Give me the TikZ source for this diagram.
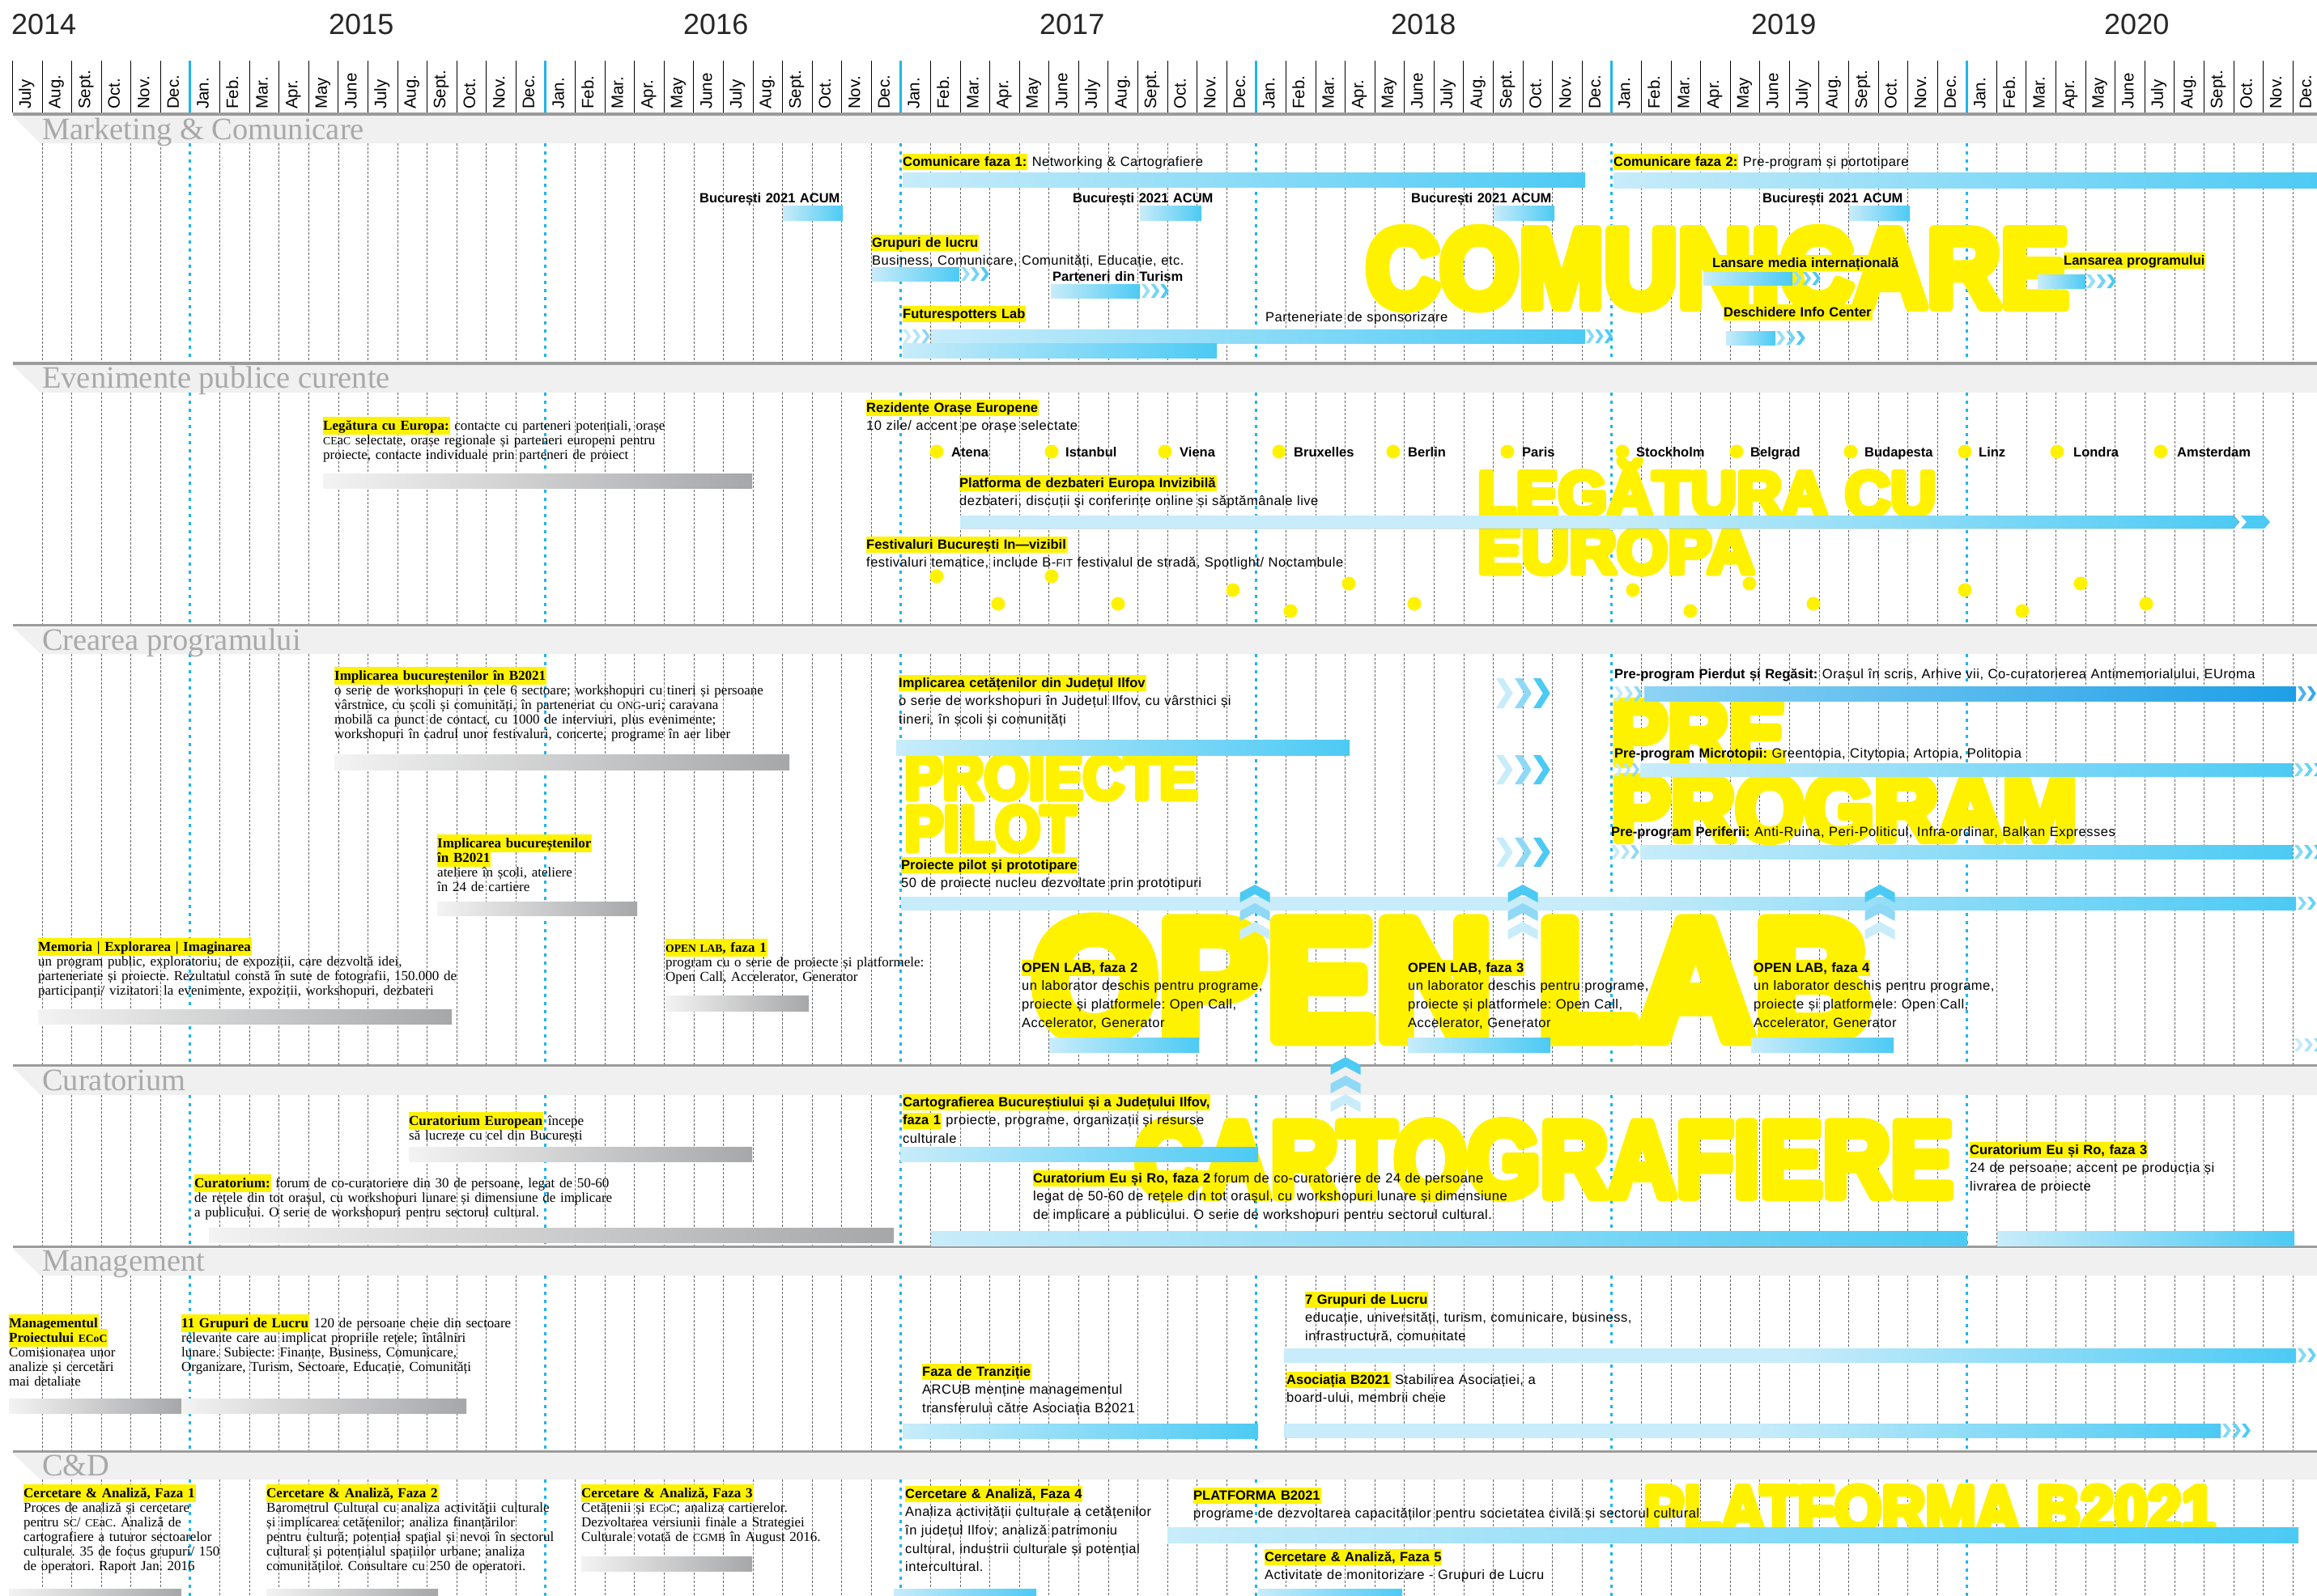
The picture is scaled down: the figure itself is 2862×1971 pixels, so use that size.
\documentclass[tikz,border=0pt]{standalone}
\usepackage{fontspec}
\usepackage{graphicx}
\setmainfont{Liberation Serif}
\newfontfamily\sansf{Liberation Sans}[LetterSpace=3,BoldFeatures={LetterSpace=0}]
\newfontfamily\plainsans{Liberation Sans}
\newfontfamily\bigf{Liberation Sans}
\definecolor{yel}{HTML}{FFF200}
\definecolor{bl1}{HTML}{C8ECFA}
\definecolor{blm}{HTML}{8FD8F6}
\definecolor{bl2}{HTML}{4CCAF4}
\definecolor{bld}{HTML}{1E9FE6}
\definecolor{blmd}{HTML}{8DD3F5}
\definecolor{gr1}{HTML}{F3F3F3}
\definecolor{gr2}{HTML}{A6A7A9}
\definecolor{sepg}{HTML}{9B9B9B}
\definecolor{bandg}{HTML}{F0F0F0}
\definecolor{labg}{HTML}{A9A9A9}
\definecolor{yrblue}{HTML}{1FB5EA}
\pgfdeclarehorizontalshading{bluelate}{100bp}{color(0bp)=(bl1); color(25bp)=(bl1); color(50bp)=(bl1); color(75bp)=(bl2); color(100bp)=(bl2)}
\newcommand\serf{\rmfamily\fontsize{17}{18}\selectfont\frenchspacing\lineskiplimit=-100pt\lineskip=0pt}
\newcommand\sanf{\sansf\fontsize{16.5}{22.7}\selectfont\frenchspacing\lineskiplimit=-100pt\lineskip=0pt}
\newcommand\hls[1]{{\setlength{\fboxsep}{0pt}\colorbox{yel}{\rule[-5pt]{0pt}{20pt}#1\kern1pt}}}
\newcommand\hlr[1]{{\setlength{\fboxsep}{0pt}\colorbox{yel}{\rule[-6pt]{0pt}{22pt}#1\kern1pt}}}
\newcommand\smcp[1]{\scalebox{0.8}{#1}}
% heavy word: stroked and filled text (text render mode 2), resized to width x height
\newcommand\bigw[3]{\resizebox{#1}{#2}{\special{pdf:literal direct 2 Tr 0.9 w 1 0.949 0 RG 1 j}#3\special{pdf:literal direct 0 Tr}}}
% three right-pointing chevrons: x, y1, y2, group width, colours
\newcommand\chevs[7]{%
  \pgfmathsetmacro\chs{#4/3}\pgfmathsetmacro\cht{#4*0.13}\pgfmathsetmacro\chp{#4*0.17}\pgfmathsetmacro\chm{(#2+#3)/2}%
  \foreach \ci/\chc in {0/#5,1/#6,2/#7}{%
    \fill[\chc] ({#1+\ci*\chs},#2) -- ({#1+\ci*\chs+\cht},#2) -- ({#1+\ci*\chs+\cht+\chp},\chm) -- ({#1+\ci*\chs+\cht},#3) -- ({#1+\ci*\chs},#3) -- ({#1+\ci*\chs+\chp},\chm) -- cycle;}}
% three up-pointing chevrons: centre x, top y
\newcommand\upstack[2]{%
  \foreach \cj/\chc in {0/bl2,1/blm,2/bl1}{%
    \pgfmathsetmacro\chy{#2+\cj*23}%
    \fill[\chc] (#1,\chy) -- ({#1+18.5},{\chy+10}) -- ({#1+18.5},{\chy+22}) -- (#1,{\chy+12}) -- ({#1-18.5},{\chy+22}) -- ({#1-18.5},{\chy+10}) -- cycle;}}
\tikzset{
  hdr/.style={line width=1pt, black},
  hdry/.style={line width=3pt, yrblue},
  gridd/.style={line width=0.7pt, black!60, dash pattern=on 3pt off 2pt},
  gridy/.style={line width=3pt, yrblue, dash pattern=on 4pt off 6pt},
  sepline/.style={line width=3.6pt, sepg},
  seclab/.style={anchor=base west, inner sep=0pt, text=labg, font=\rmfamily\fontsize{38.5}{40}\selectfont},
  yr/.style={anchor=base west, inner sep=0pt, text=black!85, font=\plainsans\fontsize{36}{40}\selectfont},
  mon/.style={rotate=90, anchor=mid west, inner sep=0pt, font=\plainsans\fontsize{20.5}{22}\selectfont},
  tser/.style={anchor=base west, inner sep=0pt, text width=1000pt, align=left, font=\serf},
  tsan/.style={anchor=base west, inner sep=0pt, text width=1000pt, align=left, font=\sanf},
  big/.style={anchor=base west, inner sep=0pt, text=yel, font=\bigf\bfseries},
  bbar/.style={left color=bl1, right color=bl2},
  gbar/.style={left color=gr1, right color=gr2},
  lbar/.style={shading=bluelate, shading angle=0},
  dot/.style={fill=yel},
}
\begin{document}
\begin{tikzpicture}[x=1pt,y=-1pt]
\useasboundingbox (0,0) rectangle (2862,1971);
\clip (0,0) rectangle (2862,1971);
\fill[white] (0,0) rectangle (2862,1971);
% ---------- section bands and separators
\foreach \t/\b in {143/177,451/485,774.5/808,1318.5/1353,1542.5/1576,1795.5/1828}{%
  \fill[bandg] (15.5,\t) -- (2862,\t) -- (2862,\b) -- (50,\b) -- cycle;}
\foreach \y in {141,449,772.5,1316.5,1540.5,1793.5}{\draw[sepline] (15.5,\y) -- (2862,\y);}
% ---------- header lines
\foreach \k in {0,...,77}{%
  \pgfmathtruncatemacro\r{mod(\k,12)}%
  \ifnum\r=6 \draw[hdry] ({15.5+36.58*\k},75) -- ({15.5+36.58*\k},139);%
  \else \draw[hdr] ({15.5+36.58*\k},75) -- ({15.5+36.58*\k},139);\fi}
% ---------- body grid
\foreach \ya/\yb in {177/447,485/771,808/1315,1353/1539,1576/1792,1828/1975}{%
  \foreach \k in {1,...,77}{%
    \pgfmathtruncatemacro\r{mod(\k,12)}%
    \ifnum\r=6 \draw[gridy] ({15.5+36.58*\k},\ya) -- ({15.5+36.58*\k},\yb);%
    \else \draw[gridd] ({15.5+36.58*\k},\ya) -- ({15.5+36.58*\k},\yb);\fi}}
% ---------- years and months
\node[yr] (y14) at (14,42) {2014};
\node[yr] (y15) at (406,42) {2015};
\node[yr] (y16) at (844,42) {2016};
\node[yr] (y17) at (1284,42) {2017};
\node[yr] (y18) at (1718,42) {2018};
\node[yr] (y19) at (2163,42) {2019};
\node[yr] (y20) at (2599,42) {2020};
\foreach \m [count=\i from 0] in {July,Aug.,Sept.,Oct.,Nov.,Dec.}{%
  \node[mon] (m0-\i) at ({35.8+36.58*\i},135) {\m};}
\foreach \yy in {0,...,5}{%
  \foreach \m [count=\i from 0] in {Jan.,Feb.,Mar.,Apr.,May,June,July,Aug.,Sept.,Oct.,Nov.,Dec.}{%
    \node[mon] (m\yy-\i) at ({35.8+36.58*(6+12*\yy+\i)},135) {\m};}}
% ---------- section labels
\node[seclab] (s1) at (52,172) {Marketing \& Comunicare};
\node[seclab] (s2) at (52,479) {Evenimente publice curente};
\node[seclab] (s3) at (52,803) {Crearea programului};
\node[seclab] (s4) at (52,1347) {Curatorium};
\node[seclab] (s5) at (52,1570) {Management};
\node[seclab] (s6) at (52,1823) {C\&D};
% ---------- big yellow words
\node[big] (wcom) at (1687,379) {\bigw{868pt}{96pt}{COMUNICARE}};
\node[big] (wleg) at (1825,637) {\bigw{566pt}{!}{LEGĂTURA CU}};
\node[big] (weur) at (1825,708) {\bigw{342pt}{56pt}{EUROPA}};
\node[big] (wpro) at (1117,987) {\bigw{362pt}{54pt}{PROIECTE}};
\node[big] (wpil) at (1117,1051) {\bigw{212pt}{55pt}{PILOT}};
\node[big] (wpre) at (1990,944) {\bigw{215pt}{77pt}{PRE}};
\node[big] (wprg) at (1990,1038) {\bigw{575pt}{79pt}{PROGRAM}};
\node[big] (wopl) at (1274,1283) {\bigw{1037pt}{146pt}{OPEN LAB}};
\node[big] (wcar) at (1401,1478) {\bigw{1011pt}{92pt}{CARTOGRAFIERE}};
\node[big] (wpla) at (2030,1892) {\bigw{706pt}{56pt}{PLATFORMA B2021}};
% ---------- bars: Marketing
\fill[bbar] (1115,213) rectangle (1958,231);
\fill[bbar] (1993,213) rectangle (2870,232);
\fill[bbar] (967,254) rectangle (1041,272);
\fill[bbar] (1408,254) rectangle (1484,272);
\fill[bbar] (1845,254) rectangle (1920,272);
\fill[bbar] (2284,254) rectangle (2359,272);
\fill[bbar] (1077,330) rectangle (1185,347);
\chevs{1187}{330}{347}{36}{bl2!60!white}{bl2!80!white}{bl2}
\fill[bbar] (1298,351) rectangle (1408,368);
\chevs{1410}{351}{368}{35}{bl2!60!white}{bl2!80!white}{bl2}
\chevs{1115}{407}{424}{35}{bl1}{bl1!60!blm}{blm}
\fill[bbar] (1150,407) rectangle (1958,424);
\chevs{1959}{407}{424}{34}{bl2!70!white}{bl2!85!white}{bl2}
\fill[bbar] (1115,424) rectangle (1503,442);
\fill[bbar] (2104,336) rectangle (2214,352);
\chevs{2215}{336}{352}{35}{bl2!60!white}{bl2!80!white}{bl2}
\fill[bbar] (2517,339) rectangle (2576,356);
\chevs{2577}{339}{356}{38}{bl2!60!white}{bl2!80!white}{bl2}
\fill[bbar] (2132,409) rectangle (2193,426);
\chevs{2194}{409}{426}{37}{bl2!60!white}{bl2!80!white}{bl2}
% ---------- bars: Evenimente
\fill[gbar] (399,585) rectangle (929,603);
\fill[lbar] (1186,637) -- (2759,637) -- (2766,645) -- (2759,653) -- (1186,653) -- cycle;
\fill[bl2] (2768,637) -- (2797,637) -- (2804,645) -- (2797,653) -- (2768,653) -- (2775,645) -- cycle;
\foreach \dx in {1157,1299,1439,1580,1721,1862,2004,2145,2286,2427,2541,2669}{\fill[dot] (\dx,558) circle (8.5);}
\foreach \dx/\dy in {1157/712,1233/746,1299/712,1381/746,1523/729,1594/755,1666/721,1747/746,2017/729,2088/755,2161/721,2240/746,2427/729,2498/755,2570/721,2651/746}{\fill[dot] (\dx,\dy) circle (8.5);}
% ---------- bars: Crearea programului
\fill[gbar] (413,932) rectangle (975,951);
\fill[gbar] (540,1114) rectangle (787,1131);
\fill[gbar] (47,1247) rectangle (558,1265);
\fill[gbar] (822,1230) rectangle (999,1249);
\fill[bbar] (1107,914) rectangle (1667,933);
\fill[lbar] (1113,1108) rectangle (2836,1124);
\chevs{2838}{1108}{1124}{36}{bl2!70!white}{bl2!85!white}{bl2}
\chevs{1994}{848}{866}{36}{bl1}{blm!70!white}{blm}
\fill[left color=blmd, right color=bld] (2031,848) rectangle (2836,866);
\chevs{2838}{848}{866}{36}{bld!80!white}{bld!90!white}{bld}
\chevs{1994}{943}{959}{32}{bl1}{bl1!60!blm}{blm}
\fill[bbar] (2026,943) rectangle (2832,959);
\chevs{2834}{943}{959}{36}{bl2!70!white}{bl2!85!white}{bl2}
\chevs{1990}{1044}{1061}{36}{bl1}{bl1!60!blm}{blm}
\fill[bbar] (2026,1044) rectangle (2832,1061);
\chevs{2834}{1044}{1061}{36}{bl2!70!white}{bl2!85!white}{bl2}
\fill[bbar] (1296,1282) rectangle (1481,1300);
\fill[bbar] (1739,1282) rectangle (1915,1300);
\fill[bbar] (2163,1282) rectangle (2339,1300);
\chevs{2834}{1283}{1299}{36}{bl1}{bl1!60!blm}{blm}
\chevs{1848}{838}{875}{69}{bl1}{blm}{bl2}
\chevs{1848}{933}{969}{69}{bl1}{blm}{bl2}
\chevs{1848}{1035}{1071}{69}{bl1}{blm}{bl2}
\upstack{1550}{1093}
\upstack{1881}{1093}
\upstack{2322}{1093}
\upstack{1662}{1306}
% ---------- bars: Curatorium
\fill[gbar] (505,1417) rectangle (929,1435);
\fill[gbar] (258,1517) rectangle (1104,1535);
\fill[bbar] (1112,1417) rectangle (1554,1435);
\fill[bbar] (1150,1521) rectangle (2430,1539);
\fill[bbar] (2467,1521) rectangle (2834,1539);
% ---------- bars: Management
\fill[gbar] (11,1728) rectangle (224,1746);
\fill[gbar] (224,1728) rectangle (576,1746);
\fill[bbar] (1115,1759) rectangle (1554,1777);
\fill[lbar] (1586,1666) rectangle (2836,1683);
\chevs{2838}{1666}{1683}{36}{bl2!70!white}{bl2!85!white}{bl2}
\fill[lbar] (1586,1759) rectangle (2743,1776);
\chevs{2745}{1759}{1776}{36}{bl2!70!white}{bl2!85!white}{bl2}
% ---------- bars: C&D
\fill[gbar] (11,1963) rectangle (224,1985);
\fill[gbar] (329,1963) rectangle (541,1985);
\fill[gbar] (718,1923) rectangle (929,1941);
\fill[bbar] (1104,1963) rectangle (1280,1985);
\fill[bbar] (1442,1887) rectangle (2839,1906);
\fill[bbar] (1554,1963) rectangle (1732,1985);
% ---------- texts: Marketing
\node[tsan] (cf1) at (1115,205) {\hls{\textbf{Comunicare faza 1:}} Networking \& Cartografiere};
\node[tsan] (cf2) at (1993,205) {\hls{\textbf{Comunicare faza 2:}} Pre-program și portotipare};
\node[tsan] (ac1) at (864,250) {\textbf{București 2021 ACUM}};
\node[tsan] (ac2) at (1325,250) {\textbf{București 2021 ACUM}};
\node[tsan] (ac3) at (1743,250) {\textbf{București 2021 ACUM}};
\node[tsan] (ac4) at (2177,250) {\textbf{București 2021 ACUM}};
\node[tsan] (grl) at (1077,305) {\hls{\textbf{Grupuri de lucru}}\\Business, Comunicare, Comunități, Educație, etc.};
\node[tsan] (ptu) at (1300,347) {\textbf{Parteneri din Turism}};
\node[tsan] (fsl) at (1115,393) {\hls{\textbf{Futurespotters Lab}}};
\node[tsan] (psp) at (1563,397) {Parteneriate de sponsorizare};
\node[tsan] (lmi) at (2115,330) {\hls{\textbf{Lansare media internațională}}};
\node[tsan] (lpr) at (2549,327) {\hls{\textbf{Lansarea programului}}};
\node[tsan] (dic) at (2129,391) {\hls{\textbf{Deschidere Info Center}}};
% ---------- texts: Evenimente
\node[tser] (lce) at (399,531) {\hlr{\textbf{Legătura cu Europa:}} contacte cu parteneri potențiali, orașe\\\smcp{CE}a\smcp{C} selectate, orașe regionale și parteneri europeni pentru\\proiecte, contacte individuale prin parteneri de proiect};
\node[tsan] (roe) at (1070,509) {\hls{\textbf{Rezidențe Orașe Europene}}\\10 zile/ accent pe orașe selectate};
\foreach \tx/\cn in {1175/Atena,1316/Istanbul,1457/Viena,1598/Bruxelles,1739/Berlin,1880/Paris,2021/Stockholm,2162/Belgrad,2303/Budapesta,2444/Linz,2561/Londra,2689/Amsterdam}{%
  \node[tsan] (c-\cn) at (\tx,564) {\textbf{\cn}};}
\node[tsan] (pde) at (1185,602) {\hls{\textbf{Platforma de dezbateri Europa Invizibilă}}\\dezbateri, discuții și conferințe online și săptămânale live};
\node[tsan] (fbi) at (1070,678) {\hls{\textbf{Festivaluri București In—vizibil}}\\festivaluri tematice, include B-\smcp{FIT} festivalul de stradă, Spotlight/ Noctambule};
% ---------- texts: Crearea programului
\node[tser] (ib1) at (413,840) {\hlr{\textbf{Implicarea bucureștenilor în B2021}}\\o serie de workshopuri în cele 6 sectoare; workshopuri cu tineri și persoane\\vârstnice, cu școli și comunități, în parteneriat cu \smcp{ONG}-uri; caravana\\mobilă ca punct de contact, cu 1000 de interviuri, plus evenimente;\\workshopuri în cadrul unor festivaluri, concerte, programe în aer liber};
\node[tser] (ib2) at (540,1047) {\hlr{\textbf{Implicarea bucureștenilor}}\\\hlr{\textbf{în B2021}}\\ateliere în școli, ateliere\\în 24 de cartiere};
\node[tser] (mei) at (47,1175) {\hlr{\textbf{Memoria | Explorarea | Imaginarea}}\\un program public, exploratoriu, de expoziții, care dezvoltă idei,\\parteneriate și proiecte. Rezultatul constă în sute de fotografii, 150.000 de\\participanți/ vizitatori la evenimente, expoziții, workshopuri, dezbateri};
\node[tser] (ol1) at (822,1176) {\hlr{\textbf{\smcp{OPEN LAB}, faza 1}}\\program cu o serie de proiecte și platformele:\\Open Call, Accelerator, Generator};
\node[tsan] (ici) at (1110,849) {\hls{\textbf{Implicarea cetățenilor din Județul Ilfov}}\\o serie de workshopuri în Județul Ilfov, cu vârstnici și\\tineri, în școli și comunități};
\node[tsan] (ppp) at (1113,1074) {\hls{\textbf{Proiecte pilot și prototipare}}\\50 de proiecte nucleu dezvoltate prin prototipuri};
\node[tsan] (pp1) at (1994,838) {\textbf{Pre-program Pierdut și Regăsit:} Orașul în scris, Arhive vii, Co-curatorierea Antimemorialului, EUroma};
\node[tsan] (pp2) at (1994,936) {\textbf{Pre-program Microtopii:} Greentopia, Citytopia, Artopia, Politopia};
\node[tsan] (pp3) at (1990,1033) {\textbf{Pre-program Periferii:} Anti-Ruina, Peri-Politicul, Infra-ordinar, Balkan Expresses};
\node[tsan] (ol2) at (1262,1201) {\hls{\textbf{OPEN LAB, faza 2}}\\un laborator deschis pentru programe,\\proiecte și platformele: Open Call,\\Accelerator, Generator};
\node[tsan] (ol3) at (1739,1201) {\hls{\textbf{OPEN LAB, faza 3}}\\un laborator deschis pentru programe,\\proiecte și platformele: Open Call,\\Accelerator, Generator};
\node[tsan] (ol4) at (2166,1201) {\hls{\textbf{OPEN LAB, faza 4}}\\un laborator deschis pentru programe,\\proiecte și platformele: Open Call,\\Accelerator, Generator};
% ---------- texts: Curatorium
\node[tser] (cue) at (505,1390) {\hlr{\textbf{Curatorium European}} începe\\să lucreze cu cel din București};
\node[tser] (cur) at (240,1467) {\hlr{\textbf{Curatorium:}} forum de co-curatoriere din 30 de persoane, legat de 50-60\\de rețele din tot orașul, cu workshopuri lunare și dimensiune de implicare\\a publicului. O serie de workshopuri pentru sectorul cultural.};
\node[tsan] (cbi) at (1115,1367) {\hls{\textbf{Cartografierea Bucureștiului și a Județului Ilfov,}}\\\hls{\textbf{faza 1}} proiecte, programe, organizații și resurse\\culturale};
\node[tsan] (cr2) at (1276,1461) {\hls{\textbf{Curatorium Eu și Ro, faza 2}}\kern3pt forum de co-curatoriere de 24 de persoane\\legat de 50-60 de rețele din tot orașul, cu workshopuri lunare și dimensiune\\de implicare a publicului. O serie de workshopuri pentru sectorul cultural.};
\node[tsan] (cr3) at (2433,1426) {\hls{\textbf{Curatorium Eu și Ro, faza 3}}\\24 de persoane; accent pe producția și\\livrarea de proiecte};
% ---------- texts: Management
\node[tser] (mpe) at (11,1640) {\hlr{\textbf{Managementul}}\\\hlr{\textbf{Proiectului \smcp{ECoC}}}\\Comisionarea unor\\analize și cercetări\\mai detaliate};
\node[tser] (ggl) at (224,1640) {\hlr{\textbf{11 Grupuri de Lucru}} 120 de persoane cheie din sectoare\\relevante care au implicat propriile rețele; întâlniri\\lunare. Subiecte: Finanțe, Business, Comunicare,\\Organizare, Turism, Sectoare, Educație, Comunități};
\node[tsan] (fdt) at (1139,1700) {\hls{\textbf{Faza de Tranziție}}\\ARCUB menține managementul\\transferului către Asociația B2021};
\node[tsan] (g7) at (1612,1611) {\hls{\textbf{7 Grupuri de Lucru}}\\educație, universități, turism, comunicare, business,\\infrastructură, comunitate};
\node[tsan] (asb) at (1589,1710) {\hls{\textbf{Asociația B2021}} Stabilirea Asociației, a\\board-ului, membrii cheie};
% ---------- texts: C&D
\node[tser] (ca1) at (29,1850) {\hlr{\textbf{Cercetare \& Analiză, Faza 1}}\\Proces de analiză și cercetare\\pentru \smcp{SC}/ \smcp{CE}a\smcp{C}. Analiză de\\cartografiere a tuturor sectoarelor\\culturale. 35 de focus grupuri/ 150\\de operatori. Raport Jan. 2016};
\node[tser] (ca2) at (329,1850) {\hlr{\textbf{Cercetare \& Analiză, Faza 2}}\\Barometrul Cultural cu analiza activității culturale\\și implicarea cetățenilor; analiza finanțărilor\\pentru cultură; potențial spațial și nevoi în sectorul\\cultural și potențialul spațiilor urbane; analiza\\comunităților. Consultare cu 250 de operatori.};
\node[tser] (ca3) at (718,1850) {\hlr{\textbf{Cercetare \& Analiză, Faza 3}}\\Cetățenii și \smcp{ECoC}; analiza cartierelor.\\Dezvoltarea versiunii finale a Strategiei\\Culturale votată de \smcp{CGMB} în August 2016.};
\node[tsan] (ca4) at (1118,1851) {\hls{\textbf{Cercetare \& Analiză, Faza 4}}\\Analiza activității culturale a cetățenilor\\în județul Ilfov; analiză patrimoniu\\cultural, industrii culturale și potențial\\intercultural.};
\node[tsan] (plb) at (1474,1853) {\hls{\textbf{PLATFORMA B2021}}\\programe de dezvoltarea capacităților pentru societatea civilă și sectorul cultural};
\node[tsan] (ca5) at (1562,1929) {\hls{\textbf{Cercetare \& Analiză, Faza 5}}\\Activitate de monitorizare - Grupuri de Lucru};
\end{tikzpicture}
\end{document}
